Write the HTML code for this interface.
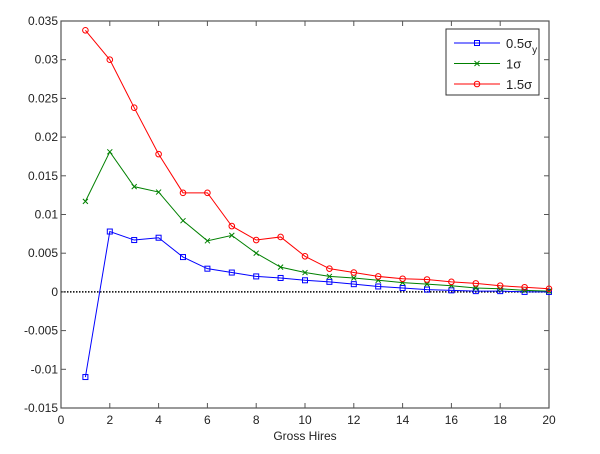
<!DOCTYPE html>
<html><head><meta charset="utf-8"><style>
html,body{margin:0;padding:0;background:#fff;}
svg{display:block;font-family:"Liberation Sans",Arial,sans-serif;}
</style></head><body>
<svg id="chart" width="600" height="454"></svg>
<script>
const xValues=[1,2,3,4,5,6,7,8,9,10,11,12,13,14,15,16,17,18,19,20];
const blueValues=[-0.011,0.0078,0.0067,0.007,0.0045,0.003,0.0025,0.002,0.0018,0.0015,0.0013,0.001,0.0007,0.0005,0.0003,0.0002,0.0001,0.0001,0,0];
const greenValues=[0.0117,0.0181,0.0136,0.0129,0.0092,0.0066,0.0073,0.005,0.0032,0.0025,0.002,0.0018,0.0015,0.0012,0.001,0.0008,0.0005,0.0004,0.0002,0.0001];
const redValues=[0.0338,0.030,0.0238,0.0178,0.0128,0.0128,0.0085,0.0067,0.0071,0.0046,0.003,0.0025,0.002,0.0017,0.0016,0.0013,0.0011,0.0008,0.0006,0.0004];
const xTicks=[0,2,4,6,8,10,12,14,16,18,20];
const yTicks=[0.035,0.03,0.025,0.02,0.015,0.01,0.005,0,-0.005,-0.01,-0.015];
const yTickLabels=["0.035","0.03","0.025","0.02","0.015","0.01","0.005","0","-0.005","-0.01","-0.015"];

const NS="http://www.w3.org/2000/svg";
const svg=document.getElementById('chart');
const L=61,R=549,T=21,B=408;
const X=v=>L+(v-0)/(20-0)*(R-L);
const Y=v=>B-(v-(-0.015))/(0.05)*(B-T);
function mk(tag,attrs,parent){const e=document.createElementNS(NS,tag);for(const k in attrs)e.setAttribute(k,attrs[k]);(parent||svg).appendChild(e);return e;}

const axes=mk('rect',{x:L,y:T,width:R-L,height:B-T,fill:'#fff',stroke:'#555','stroke-width':1.2});



const zl=mk('line',{x1:L,x2:R,y1:Y(0),y2:Y(0),stroke:'#000','stroke-width':1.5,'stroke-dasharray':'1.5,1.5'});



xTicks.forEach(t=>{
  mk('line',{x1:X(t),x2:X(t),y1:B,y2:B-5,stroke:'#555'});
  mk('line',{x1:X(t),x2:X(t),y1:T,y2:T+5,stroke:'#555'});
  const tx=mk('text',{x:X(t),y:B+16,'font-size':12,'text-anchor':'middle',fill:'#222'});
  tx.textContent=t;
  
  
});
yTicks.forEach((t,i)=>{
  mk('line',{x1:L,x2:L+5,y1:Y(t),y2:Y(t),stroke:'#555'});
  mk('line',{x1:R,x2:R-5,y1:Y(t),y2:Y(t),stroke:'#555'});
  const tx=mk('text',{x:L-3,y:Y(t)+4,'font-size':12,'text-anchor':'end',fill:'#222'});
  tx.textContent=yTickLabels[i];
  
  
});
const xt=mk('text',{x:(L+R)/2,y:440,'font-size':12,'text-anchor':'middle',fill:'#222'});
xt.textContent='Gross Hires';



function marker(kind,x,y,c,g){
  if(kind==='sq') mk('rect',{x:x-2.5,y:y-2.5,width:5,height:5,fill:'none',stroke:c},g);
  else if(kind==='x'){mk('path',{d:`M${x-2.5},${y-2.5}L${x+2.5},${y+2.5}M${x-2.5},${y+2.5}L${x+2.5},${y-2.5}`,stroke:c},g);}
  else mk('circle',{cx:x,cy:y,r:2.8,fill:'none',stroke:c},g);
}
function series(vals,c,kind,name){
  const g=mk('g',{});
  
  
  mk('polyline',{points:vals.map((v,i)=>X(xValues[i])+','+Y(v)).join(' '),fill:'none',stroke:c,'stroke-width':1},g);
  vals.forEach((v,i)=>marker(kind,X(xValues[i]),Y(v),c,g));
}
series(blueValues,'#0000ff','sq','series-0-5-sigma');
series(greenValues,'#008000','x','series-1-sigma');
series(redValues,'#ff0000','o','series-1-5-sigma');

const lg=mk('g',{});


mk('rect',{x:446,y:29,width:93,height:66,fill:'#fff',stroke:'#333'},lg);
const items=[['#0000ff','sq','0.5σ','y'],['#008000','x','1σ',''],['#ff0000','o','1.5σ','']];
items.forEach((it,i)=>{
  const y=43+i*20.5;
  const e=mk('g',{},lg);
  
  
  mk('line',{x1:454,x2:500,y1:y,y2:y,stroke:it[0]},e);
  marker(it[1],477,y,it[0],e);
  const t=mk('text',{x:506,y:y+5,'font-size':13,fill:'#222'},e);
  t.textContent=it[2];
  if(it[3]){const s=mk('tspan',{dy:5,'font-size':10},t);s.textContent=it[3];}
});
</script>
</body></html>
